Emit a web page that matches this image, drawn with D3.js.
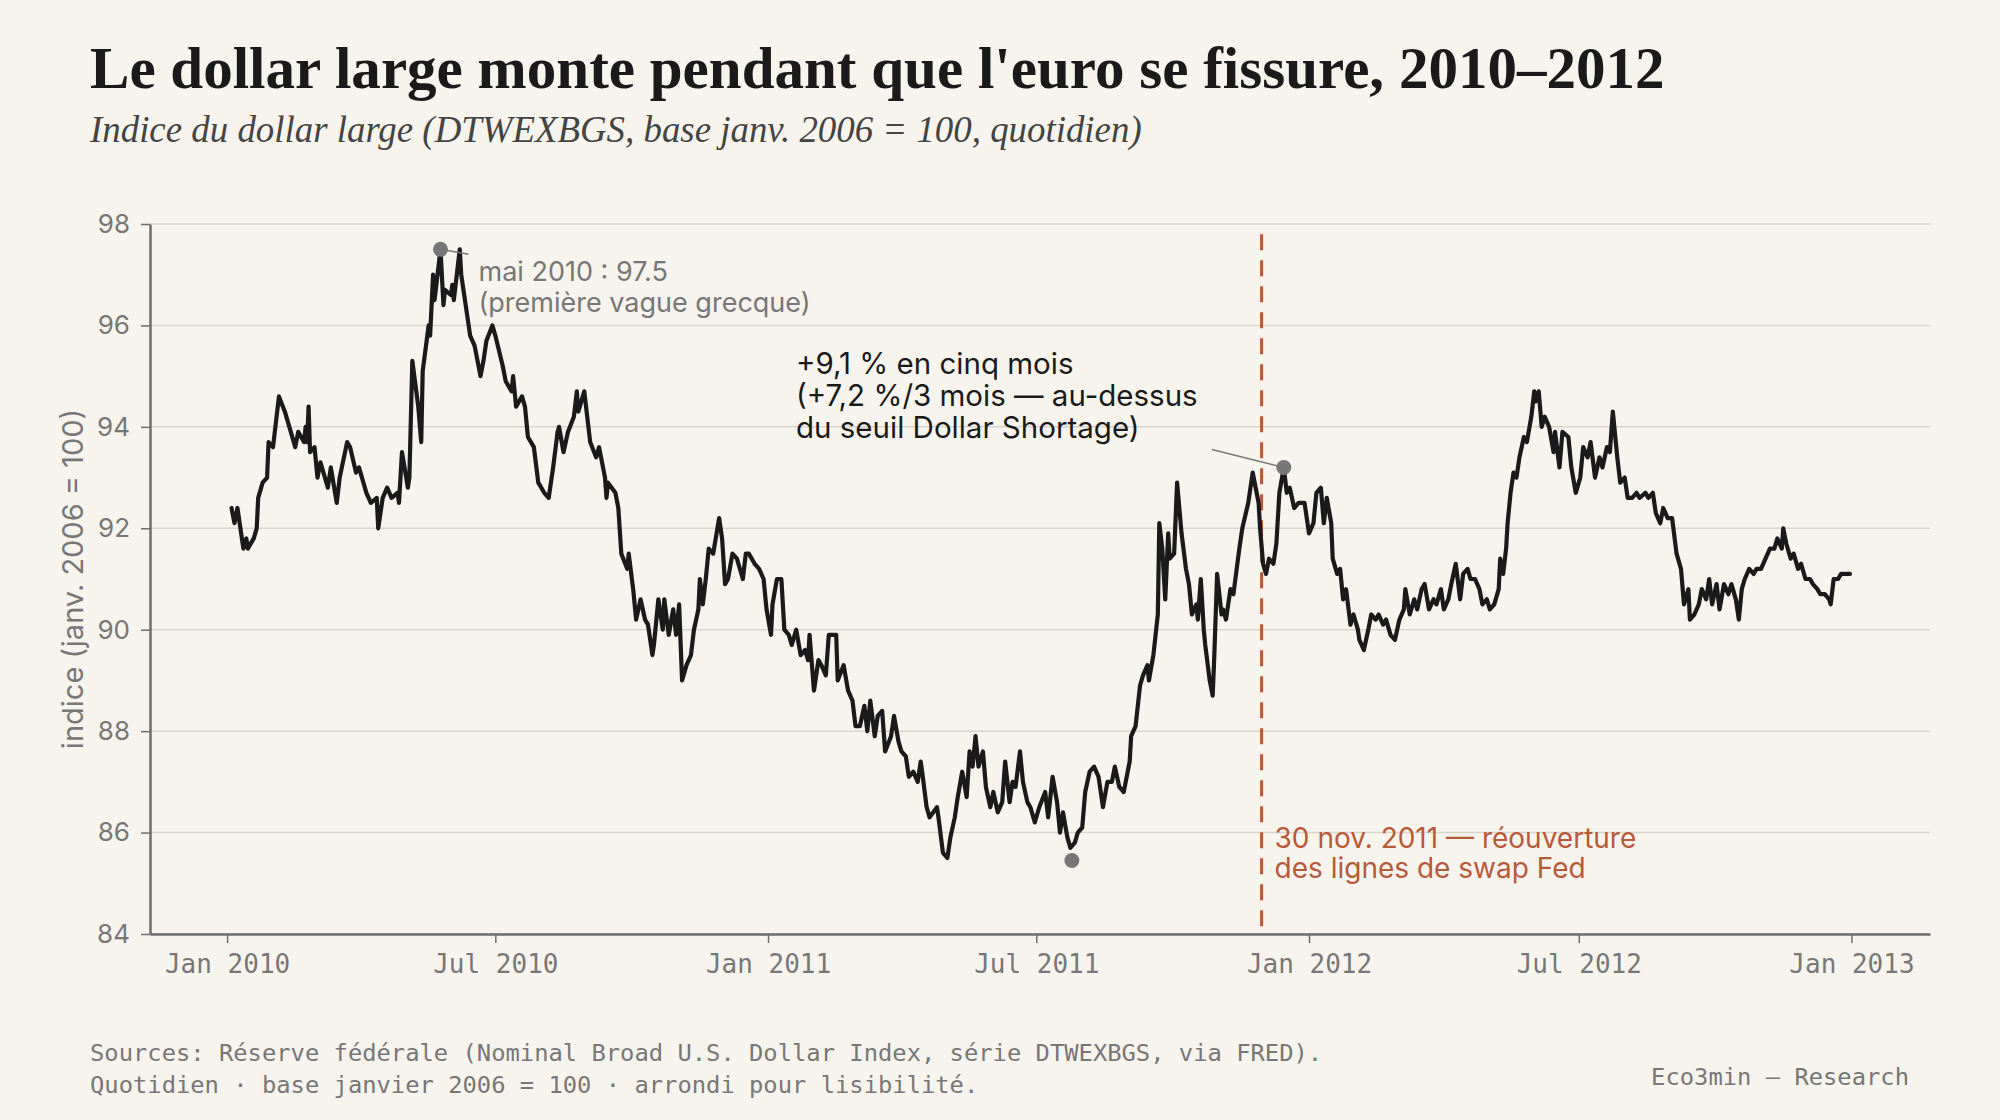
<!DOCTYPE html>
<html><head><meta charset="utf-8">
<script src="https://cdn.jsdelivr.net/npm/d3@7"></script>
<style>
html,body{margin:0;padding:0;background:#f7f4ee;}
svg{display:block;}
</style></head>
<body>
<svg id="chart" width="2000" height="1120"></svg>
<script>
// ---------- DATA ----------
const dates2010 = ["2010-01-04","2010-01-06","2010-01-08","2010-01-12","2010-01-14","2010-01-15","2010-01-19","2010-01-21","2010-01-22","2010-01-25","2010-01-28","2010-01-29","2010-02-01","2010-02-05","2010-02-09","2010-02-12","2010-02-16","2010-02-18","2010-02-22","2010-02-23","2010-02-24","2010-02-25","2010-02-26","2010-03-01","2010-03-03","2010-03-05","2010-03-10","2010-03-12","2010-03-16","2010-03-18","2010-03-23","2010-03-25","2010-03-29","2010-03-31","2010-04-05","2010-04-08","2010-04-12","2010-04-13","2010-04-16","2010-04-19","2010-04-22","2010-04-26","2010-04-27","2010-04-29","2010-05-03","2010-05-04","2010-05-06","2010-05-10","2010-05-12","2010-05-13","2010-05-17","2010-05-18","2010-05-20","2010-05-21","2010-05-25","2010-05-27","2010-05-28","2010-06-01","2010-06-02","2010-06-03","2010-06-07","2010-06-08","2010-06-10","2010-06-14","2010-06-17","2010-06-21","2010-06-23","2010-06-25","2010-06-29","2010-07-01","2010-07-06","2010-07-08","2010-07-12","2010-07-13","2010-07-15","2010-07-19","2010-07-21","2010-07-23","2010-07-27","2010-07-30","2010-08-03","2010-08-06","2010-08-09","2010-08-12","2010-08-13","2010-08-16","2010-08-19","2010-08-23","2010-08-25","2010-08-26","2010-08-30","2010-09-01","2010-09-03","2010-09-07","2010-09-09","2010-09-13","2010-09-14","2010-09-15","2010-09-20","2010-09-22","2010-09-24","2010-09-28","2010-09-29","2010-10-02","2010-10-04","2010-10-07","2010-10-10","2010-10-12","2010-10-15","2010-10-16","2010-10-19","2010-10-22","2010-10-23","2010-10-26","2010-10-29","2010-10-31","2010-11-02","2010-11-04","2010-11-07","2010-11-10","2010-11-12","2010-11-15","2010-11-16","2010-11-18","2010-11-20","2010-11-22","2010-11-25","2010-11-29","2010-12-01","2010-12-03","2010-12-05","2010-12-08","2010-12-11","2010-12-15","2010-12-17","2010-12-19","2010-12-23","2010-12-26","2010-12-29","2010-12-31"];
const values2010 = [92.4,92.1,92.4,91.6,91.8,91.6,91.8,92.0,92.6,92.9,93.0,93.7,93.6,94.6,94.3,94.0,93.6,93.9,93.7,94.0,93.7,94.4,93.5,93.6,93.0,93.3,92.8,93.2,92.5,93.0,93.7,93.6,93.1,93.2,92.7,92.5,92.6,92.0,92.6,92.8,92.6,92.7,92.5,93.5,92.8,93.0,95.3,94.4,93.7,95.1,96.0,95.8,97.0,96.5,97.5,96.4,96.7,96.6,96.8,96.5,97.5,97.0,96.6,95.8,95.6,95.0,95.3,95.7,96.0,95.8,95.2,94.9,94.7,95.0,94.4,94.6,94.4,93.8,93.6,92.9,92.7,92.6,93.2,93.9,94.0,93.5,93.9,94.2,94.7,94.3,94.7,94.2,93.7,93.4,93.6,93.0,92.6,92.9,92.7,92.4,91.5,91.2,91.5,90.8,90.2,90.6,90.2,90.1,89.5,89.7,90.6,90.0,90.6,89.9,90.4,89.9,90.5,89.0,89.3,89.5,90.0,90.4,91.0,90.5,91.0,91.6,91.5,92.2,91.8,90.9,91.0,91.5,91.4,91.0,91.5,91.5,91.3,91.2,91.0,90.4];

const dates2011 = ["2011-01-03","2011-01-04","2011-01-07","2011-01-10","2011-01-12","2011-01-15","2011-01-17","2011-01-20","2011-01-23","2011-01-26","2011-01-28","2011-01-29","2011-02-01","2011-02-04","2011-02-06","2011-02-09","2011-02-11","2011-02-16","2011-02-17","2011-02-21","2011-02-24","2011-02-27","2011-03-01","2011-03-04","2011-03-07","2011-03-09","2011-03-11","2011-03-14","2011-03-16","2011-03-19","2011-03-21","2011-03-25","2011-03-27","2011-03-30","2011-04-01","2011-04-04","2011-04-06","2011-04-09","2011-04-12","2011-04-14","2011-04-15","2011-04-18","2011-04-20","2011-04-25","2011-04-26","2011-04-29","2011-05-02","2011-05-04","2011-05-07","2011-05-09","2011-05-12","2011-05-15","2011-05-17","2011-05-19","2011-05-21","2011-05-23","2011-05-26","2011-05-28","2011-05-31","2011-06-02","2011-06-05","2011-06-08","2011-06-10","2011-06-13","2011-06-15","2011-06-17","2011-06-20","2011-06-22","2011-06-25","2011-06-27","2011-06-30","2011-07-03","2011-07-07","2011-07-09","2011-07-12","2011-07-15","2011-07-17","2011-07-19","2011-07-22","2011-07-24","2011-07-27","2011-07-29","2011-08-01","2011-08-03","2011-08-06","2011-08-09","2011-08-12","2011-08-15","2011-08-18","2011-08-21","2011-08-23","2011-08-26","2011-08-29","2011-09-02","2011-09-03","2011-09-06","2011-09-09","2011-09-11","2011-09-14","2011-09-15","2011-09-18","2011-09-21","2011-09-22","2011-09-24","2011-09-26","2011-09-28","2011-09-29","2011-10-02","2011-10-04","2011-10-07","2011-10-10","2011-10-12","2011-10-14","2011-10-17","2011-10-18","2011-10-20","2011-10-22","2011-10-23","2011-10-26","2011-10-28","2011-10-29","2011-10-31","2011-11-03","2011-11-04","2011-11-06","2011-11-09","2011-11-11","2011-11-15","2011-11-17","2011-11-21","2011-11-24","2011-11-28","2011-11-29","2011-12-01","2011-12-03","2011-12-05","2011-12-08","2011-12-10","2011-12-12","2011-12-15","2011-12-17","2011-12-19","2011-12-22","2011-12-25","2011-12-29"];
const values2011 = [89.9,90.5,91.0,91.0,90.0,89.9,89.7,90.0,89.5,89.6,89.4,89.9,88.8,89.4,89.3,89.1,89.9,89.9,89.0,89.3,88.8,88.6,88.1,88.1,88.5,88.0,88.6,87.9,88.3,88.4,87.6,87.9,88.3,87.8,87.6,87.5,87.1,87.2,87.0,87.4,87.2,86.5,86.3,86.5,86.3,85.6,85.5,85.9,86.3,86.7,87.2,86.7,87.6,87.3,87.9,87.3,87.6,86.9,86.5,86.8,86.4,86.6,87.4,86.6,87.0,86.9,87.6,87.0,86.6,86.5,86.2,86.5,86.8,86.3,87.1,86.6,86.0,86.4,85.9,85.7,85.8,86.0,86.1,86.8,87.2,87.3,87.1,86.5,87.0,87.0,87.3,86.9,86.8,87.4,87.9,88.1,88.9,89.1,89.3,89.0,89.5,90.3,92.1,91.6,90.6,91.9,91.4,91.5,92.9,91.9,91.2,90.9,90.3,90.5,90.2,91.0,90.0,89.7,89.0,88.7,89.4,91.1,90.3,90.4,90.2,90.8,90.7,91.6,92.0,92.5,93.1,92.5,92.0,91.3,91.1,91.4,91.3,91.7,92.7,93.2,92.7,92.8,92.4,92.5,92.5];

const dates2012 = ["2012-01-01","2012-01-04","2012-01-06","2012-01-09","2012-01-11","2012-01-13","2012-01-16","2012-01-17","2012-01-20","2012-01-22","2012-01-24","2012-01-26","2012-01-29","2012-01-31","2012-02-03","2012-02-04","2012-02-07","2012-02-10","2012-02-12","2012-02-15","2012-02-17","2012-02-20","2012-02-22","2012-02-25","2012-02-28","2012-03-02","2012-03-05","2012-03-06","2012-03-09","2012-03-12","2012-03-14","2012-03-17","2012-03-19","2012-03-22","2012-03-25","2012-03-27","2012-03-30","2012-04-01","2012-04-04","2012-04-06","2012-04-09","2012-04-12","2012-04-14","2012-04-17","2012-04-19","2012-04-22","2012-04-25","2012-04-27","2012-04-30","2012-05-02","2012-05-05","2012-05-08","2012-05-09","2012-05-11","2012-05-13","2012-05-14","2012-05-16","2012-05-18","2012-05-20","2012-05-22","2012-05-25","2012-05-27","2012-05-30","2012-06-01","2012-06-02","2012-06-04","2012-06-06","2012-06-08","2012-06-11","2012-06-14","2012-06-15","2012-06-18","2012-06-20","2012-06-24","2012-06-26","2012-06-29","2012-07-02","2012-07-04","2012-07-07","2012-07-09","2012-07-12","2012-07-15","2012-07-17","2012-07-20","2012-07-22","2012-07-24","2012-07-27","2012-07-29","2012-08-01","2012-08-03","2012-08-06","2012-08-09","2012-08-11","2012-08-15","2012-08-17","2012-08-20","2012-08-22","2012-08-25","2012-08-27","2012-08-30","2012-09-02","2012-09-05","2012-09-08","2012-09-10","2012-09-13","2012-09-14","2012-09-17","2012-09-20","2012-09-22","2012-09-25","2012-09-27","2012-09-29","2012-10-02","2012-10-04","2012-10-07","2012-10-10","2012-10-12","2012-10-15","2012-10-17","2012-10-19","2012-10-21","2012-10-24","2012-10-27","2012-10-29","2012-11-01","2012-11-04","2012-11-07","2012-11-10","2012-11-12","2012-11-15","2012-11-16","2012-11-18","2012-11-21","2012-11-23","2012-11-26","2012-11-28","2012-12-01","2012-12-04","2012-12-06","2012-12-09","2012-12-11","2012-12-14","2012-12-17","2012-12-18","2012-12-20","2012-12-23","2012-12-25","2012-12-28","2012-12-31"];
const values2012 = [91.9,92.1,92.7,92.8,92.1,92.6,92.1,91.4,91.1,91.2,90.6,90.8,90.1,90.3,90.0,89.8,89.6,90.0,90.3,90.2,90.3,90.1,90.2,89.9,89.8,90.2,90.4,90.8,90.3,90.6,90.4,90.8,90.9,90.4,90.6,90.5,90.8,90.4,90.6,90.9,91.3,90.6,91.1,91.2,91.0,91.0,90.8,90.5,90.6,90.4,90.5,90.8,91.4,91.1,91.6,92.1,92.7,93.1,93.0,93.4,93.8,93.7,94.2,94.7,94.5,94.7,94.0,94.2,94.0,93.5,93.9,93.2,93.9,93.8,93.2,92.7,93.0,93.6,93.4,93.7,93.0,93.4,93.2,93.6,93.5,94.3,93.4,92.9,93.0,92.6,92.6,92.7,92.6,92.7,92.6,92.7,92.3,92.1,92.4,92.2,92.2,91.5,91.2,90.5,90.8,90.2,90.3,90.5,90.8,90.6,91.0,90.5,90.9,90.4,90.9,90.7,90.9,90.6,90.2,90.8,91.0,91.2,91.1,91.2,91.2,91.4,91.6,91.6,91.8,91.6,92.0,91.7,91.4,91.5,91.2,91.3,91.0,91.0,90.9,90.8,90.7,90.7,90.6,90.5,91.0,91.0,91.1,91.1,91.1];

const yTicks = [84,86,88,90,92,94,96,98];
const xTickDates = ["2010-01-01","2010-07-01","2011-01-01","2011-07-01","2012-01-01","2012-07-01","2013-01-01"];

const markerDates = ["2010-05-25","2011-07-25","2011-12-15"];
const markerValues = [97.5,85.45,93.2];
const fedDate = "2011-11-30";

const title = "Le dollar large monte pendant que l'euro se fissure, 2010\u20132012";
const subtitle = "Indice du dollar large (DTWEXBGS, base janv. 2006 = 100, quotidien)";
const yLabel = "indice (janv. 2006 = 100)";
const peakLines = ["mai 2010 : 97.5","(premi\u00e8re vague grecque)"];
const riseLines = ["+9,1 % en cinq mois","(+7,2 %/3 mois \u2014 au-dessus","du seuil Dollar Shortage)"];
const fedLines = ["30 nov. 2011 \u2014 r\u00e9ouverture","des lignes de swap Fed"];
const footLines = ["Sources: R\u00e9serve f\u00e9d\u00e9rale (Nominal Broad U.S. Dollar Index, s\u00e9rie DTWEXBGS, via FRED).","Quotidien \u00b7 base janvier 2006 = 100 \u00b7 arrondi pour lisibilit\u00e9."];
const credit = "Eco3min \u2014 Research";

// ---------- CHART ----------
const parse = d3.utcParse("%Y-%m-%d");
const series = [].concat(
  dates2010.map((d,i)=>({date:parse(d), value:values2010[i]})),
  dates2011.map((d,i)=>({date:parse(d), value:values2011[i]})),
  dates2012.map((d,i)=>({date:parse(d), value:values2012[i]}))
);

const svg = d3.select("#chart");
const W = 2000, H = 1120;
const m = {left:150, right:70, top:224, bottom:186};

svg.append("rect").attr("width",W).attr("height",H).attr("fill","#f7f4ee");

const x = d3.scaleUtc().domain([parse("2009-11-10"), parse("2013-02-23")]).range([m.left, W - m.right]);
const y = d3.scaleLinear().domain([84,98]).range([H - m.bottom, m.top]);

const sans = "Inter, 'Noto Sans', sans-serif";
const mono = "'DejaVu Sans Mono', 'Liberation Mono', monospace";
const serif = "'Liberation Serif', 'DejaVu Serif', serif";
const grey = "#777";

function fitWidth(sel, size, target){
  const w = sel.node().getComputedTextLength();
  sel.attr("font-size", size*target/w);
}

// title
const t = svg.append("text").attr("x",90).attr("y",88).text(title)
  .attr("font-family",serif).attr("font-weight",700).attr("font-size",54).attr("fill","#1a1a1a");
fitWidth(t,54,1575);
const st = svg.append("text").attr("x",90).attr("y",142).text(subtitle)
  .attr("font-family",serif).attr("font-style","italic").attr("font-size",31).attr("fill","#444");
fitWidth(st,31,1052);

// grid
svg.append("g").selectAll("line").data(yTicks).join("line")
  .attr("x1",m.left).attr("x2",W-m.right).attr("y1",d=>y(d)).attr("y2",d=>y(d))
  .attr("stroke","#d9d5cd").attr("stroke-width",1.5);

// axes
const xAxis = d3.axisBottom(x).tickValues(xTickDates.map(parse)).tickFormat(d3.utcFormat("%b %Y")).tickSize(9).tickSizeOuter(0).tickPadding(12);
const gx = svg.append("g").attr("transform",`translate(0,${H-m.bottom})`).call(xAxis);
gx.select(".domain").attr("stroke","#6e6e6e").attr("stroke-width",2.5);
gx.selectAll(".tick line").attr("stroke","#6e6e6e").attr("stroke-width",1.5);
gx.selectAll(".tick text").attr("font-family",mono).attr("font-size",26).attr("fill",grey);

const yAxis = d3.axisLeft(y).tickValues(yTicks).tickSize(9).tickSizeOuter(0).tickPadding(11);
const gy = svg.append("g").attr("transform",`translate(${m.left},0)`).call(yAxis);
gy.select(".domain").attr("stroke","#6e6e6e").attr("stroke-width",2.5);
gy.selectAll(".tick line").attr("stroke","#6e6e6e").attr("stroke-width",1.5);
gy.selectAll(".tick text").attr("font-family",sans).attr("font-size",26).attr("fill",grey);

const yl = svg.append("text").attr("transform",`translate(73,${(m.top+H-m.bottom)/2}) rotate(-90)`)
  .attr("text-anchor","middle").attr("dy","0.35em").text(yLabel)
  .attr("font-family",sans).attr("font-size",29).attr("fill",grey);

// fed line
const fx = x(parse(fedDate));
svg.append("line").attr("x1",fx).attr("x2",fx).attr("y1",y(97.8)).attr("y2",H-m.bottom)
  .attr("stroke","#b85a3a").attr("stroke-width",3).attr("stroke-dasharray","16,10");
svg.append("g").selectAll("text").data(fedLines).join("text")
  .attr("x",fx+13).attr("y",(d,i)=>848+i*30).text(d=>d)
  .attr("font-family",sans).attr("font-size",28).attr("fill","#b85a3a");

// line
const line = d3.line().x(d=>x(d.date)).y(d=>y(d.value)).curve(d3.curveLinear);
svg.append("path").datum(series).attr("d",line).attr("fill","none")
  .attr("stroke","#1a1a1a").attr("stroke-width",4.2).attr("stroke-linejoin","round").attr("stroke-linecap","round");

// markers
const mk = markerDates.map((d,i)=>({date:parse(d), value:markerValues[i]}));
svg.append("line").attr("x1",x(mk[0].date)).attr("y1",y(mk[0].value)).attr("x2",x(mk[0].date)+28).attr("y2",y(mk[0].value)+5)
  .attr("stroke",grey).attr("stroke-width",1.5);
svg.append("line").attr("x1",x(mk[2].date)).attr("y1",y(mk[2].value)).attr("x2",x(mk[2].date)-72).attr("y2",y(mk[2].value)-18)
  .attr("stroke",grey).attr("stroke-width",1.5);
svg.append("g").selectAll("circle").data(mk).join("circle")
  .attr("cx",d=>x(d.date)).attr("cy",d=>y(d.value)).attr("r",7.5).attr("fill",grey);

svg.append("g").selectAll("text").data(peakLines).join("text")
  .attr("x",x(mk[0].date)+38).attr("y",(d,i)=>y(mk[0].value)+32+i*31).text(d=>d)
  .attr("font-family",sans).attr("font-size",27).attr("fill",grey);
svg.append("g").selectAll("text").data(riseLines).join("text")
  .attr("x",796).attr("y",(d,i)=>374+i*32).text(d=>d)
  .attr("font-family",sans).attr("font-size",29.5).attr("fill","#1a1a1a");

// footer
svg.append("g").selectAll("text").data(footLines).join("text")
  .attr("x",90).attr("y",(d,i)=>1061+i*32).text(d=>d)
  .attr("font-family",mono).attr("font-size",23.8).attr("fill",grey);
svg.append("text").attr("x",1909).attr("y",1085).attr("text-anchor","end").text(credit)
  .attr("font-family",mono).attr("font-size",23.8).attr("fill",grey);
</script>
</body></html>
